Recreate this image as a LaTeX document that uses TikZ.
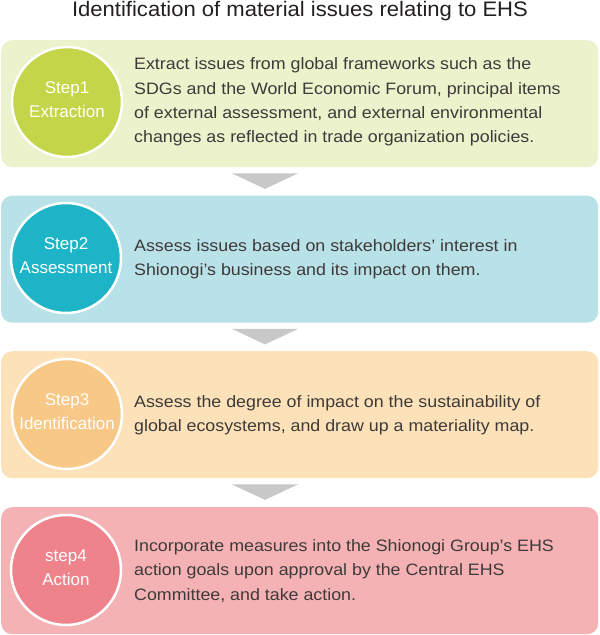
\documentclass[tikz,border=0pt]{standalone}
\usepackage{fontspec}
\setmainfont{Liberation Sans}
\newfontfamily\widefont[FakeStretch=1.08]{Liberation Sans}
\newfontfamily\titlefont[FakeStretch=1.05]{Liberation Sans}
\usetikzlibrary{calc}
\definecolor{boxA}{HTML}{EBF2CC}
\definecolor{discA}{HTML}{C4D54A}
\definecolor{boxB}{HTML}{B9E1E8}
\definecolor{discB}{HTML}{1DB4C8}
\definecolor{boxC}{HTML}{FCE1B9}
\definecolor{discC}{HTML}{F8C886}
\definecolor{boxD}{HTML}{F4B2B4}
\definecolor{discD}{HTML}{EF838C}
\definecolor{arrowgray}{HTML}{C8C8C8}
\definecolor{bodytext}{HTML}{3E3A39}
\definecolor{titletext}{HTML}{231F20}
\begin{document}
\begin{tikzpicture}[x=1pt,y=-1pt,
  titlestyle/.style={text=titletext, font=\titlefont\fontsize{21}{24}\selectfont, inner sep=0pt},
  panel/.style={rectangle, rounded corners=11pt, minimum width=597pt, minimum height=127pt, anchor=north west, inner sep=0pt},
  disc/.style={circle, minimum size=110pt, inner sep=0pt, draw=white, line width=2.5pt, text=white, align=center, font=\fontsize{17}{23.5}\selectfont},
  bodystyle/.style={anchor=west, align=left, text=bodytext, inner sep=0pt, font=\widefont\fontsize{16.5}{24.3}\selectfont},
  pointer/.style={fill=arrowgray}
]
\useasboundingbox (0,0) rectangle (600,635);
\node[titlestyle] (title) at (300,11) {Identification of material issues relating to EHS};

\node[panel, fill=boxA] (b1) at (1,40) {};
\node[panel, fill=boxB] (b2) at (1,195.5) {};
\node[panel, fill=boxC] (b3) at (1,351) {};
\node[panel, fill=boxD] (b4) at (1,507) {};

\node[disc, fill=discA] (c1) at (67,102) {Step1\\Extraction\\[-18.5pt]};
\node[disc, fill=discB] (c2) at (66,258) {Step2\\Assessment\\[-18.5pt]};
\node[disc, fill=discC] (c3) at (67,414) {Step3\\Identification\\[-18.5pt]};
\node[disc, fill=discD] (c4) at (66,570) {step4\\Action\\[-18.5pt]};

\node[bodystyle] (t1) at (134,102) {Extract issues from global frameworks such as the\\SDGs and the World Economic Forum, principal items\\of external assessment, and external environmental\\changes as reflected in trade organization policies.};
\node[bodystyle] (t2) at (134,259) {Assess issues based on stakeholders’ interest in\\Shionogi’s business and its impact on them.};
\node[bodystyle] (t3) at (134,415) {Assess the degree of impact on the sustainability of\\global ecosystems, and draw up a materiality map.};
\node[bodystyle] (t4) at (134,571) {Incorporate measures into the Shionogi Group’s EHS\\action goals upon approval by the Central EHS\\Committee, and take action.};

\foreach \u/\l in {b1/b2, b2/b3, b3/b4}{
  \fill[pointer] ($(\u.south west)+(231,6)$) -- ($(\u.south west)+(297,6)$) -- ($(\u.south west)+(264,21.5)$) -- cycle;
}
\end{tikzpicture}
\end{document}
